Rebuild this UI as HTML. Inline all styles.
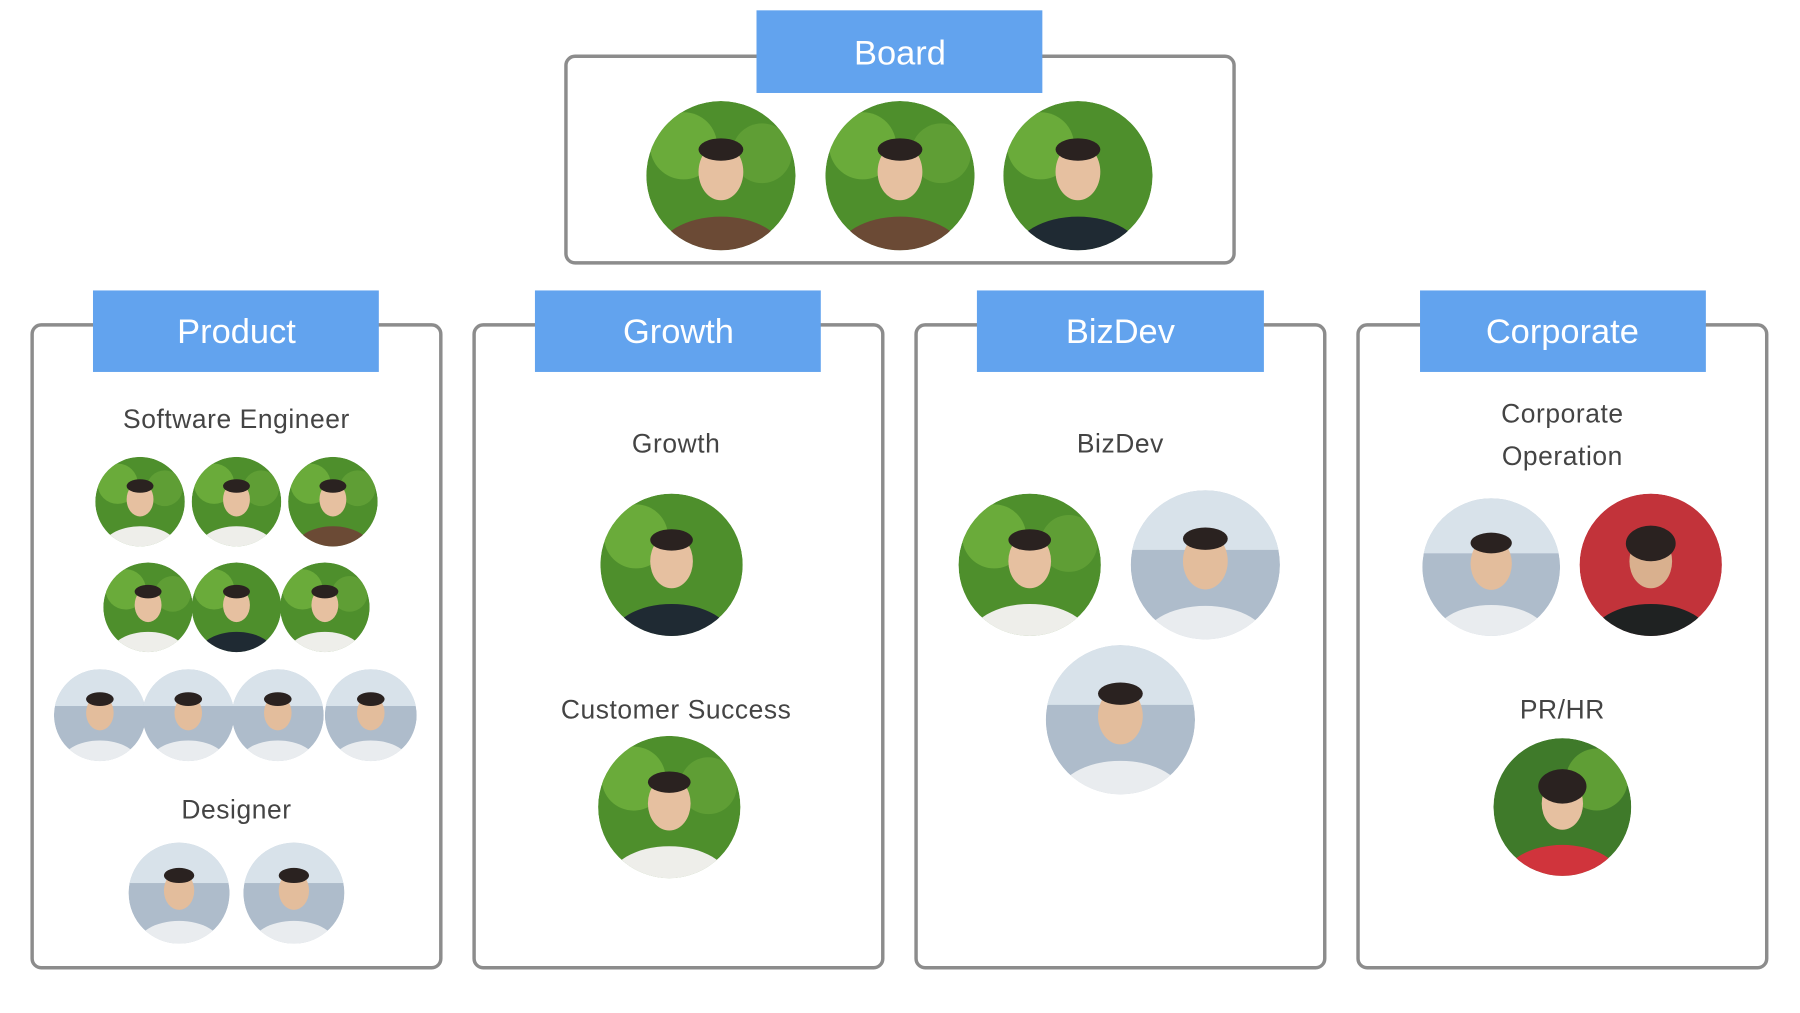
<!DOCTYPE html>
<html><head><meta charset="utf-8"><style>
html,body{margin:0;padding:0;background:#fff;}
svg{display:block;}
text{font-family:"Liberation Sans","DejaVu Sans",sans-serif;}
</style></head><body>
<svg width="1800" height="1013" viewBox="0 0 1568 882.4" preserveAspectRatio="none" xmlns="http://www.w3.org/2000/svg">
<defs>
<clipPath id="u"><circle cx="0" cy="0" r="1"/></clipPath>
<g id="g">
<circle cx="0" cy="0" r="1" fill="#4e8f2c"/>
<circle cx="-0.5" cy="-0.4" r="0.45" fill="#6aab3a"/>
<circle cx="0.55" cy="-0.3" r="0.4" fill="#5f9e35"/>
<ellipse cx="0" cy="1.05" rx="0.85" ry="0.5" fill="#6b4a35"/>
<ellipse cx="0" cy="-0.05" rx="0.3" ry="0.38" fill="#e6c0a0"/>
<ellipse cx="0" cy="-0.35" rx="0.3" ry="0.15" fill="#2a2220"/>
</g>
<g id="w">
<circle cx="0" cy="0" r="1" fill="#4e8f2c"/>
<circle cx="-0.5" cy="-0.4" r="0.45" fill="#6aab3a"/>
<circle cx="0.55" cy="-0.3" r="0.4" fill="#5f9e35"/>
<ellipse cx="0" cy="1.05" rx="0.85" ry="0.5" fill="#eeeeea"/>
<ellipse cx="0" cy="-0.05" rx="0.3" ry="0.38" fill="#e6c0a0"/>
<ellipse cx="0" cy="-0.35" rx="0.3" ry="0.15" fill="#2a2220"/>
</g>
<g id="b">
<circle cx="0" cy="0" r="1" fill="#aebccb"/>
<rect x="-1" y="-1" width="2" height="0.8" fill="#d8e2ea"/>
<ellipse cx="0" cy="1.05" rx="0.85" ry="0.5" fill="#e9ecef"/>
<ellipse cx="0" cy="-0.05" rx="0.3" ry="0.38" fill="#e3bd9c"/>
<ellipse cx="0" cy="-0.35" rx="0.3" ry="0.15" fill="#2a2220"/>
</g>
<g id="d">
<circle cx="0" cy="0" r="1" fill="#4e8f2c"/>
<circle cx="-0.5" cy="-0.4" r="0.45" fill="#6aab3a"/>
<ellipse cx="0" cy="1.05" rx="0.85" ry="0.5" fill="#1f2a33"/>
<ellipse cx="0" cy="-0.05" rx="0.3" ry="0.38" fill="#e6c0a0"/>
<ellipse cx="0" cy="-0.35" rx="0.3" ry="0.15" fill="#2a2220"/>
</g>
<g id="r">
<circle cx="0" cy="0" r="1" fill="#c2333a"/>
<ellipse cx="0" cy="1.05" rx="0.85" ry="0.5" fill="#1f2222"/>
<ellipse cx="0" cy="-0.05" rx="0.3" ry="0.38" fill="#d9b08e"/>
<ellipse cx="0" cy="-0.3" rx="0.35" ry="0.25" fill="#2a2220"/>
</g>
<g id="p">
<circle cx="0" cy="0" r="1" fill="#3f7a2a"/>
<circle cx="0.5" cy="-0.4" r="0.45" fill="#5f9e35"/>
<ellipse cx="0" cy="1.05" rx="0.85" ry="0.5" fill="#d0343c"/>
<ellipse cx="0" cy="-0.05" rx="0.3" ry="0.38" fill="#e6c0a0"/>
<ellipse cx="0" cy="-0.3" rx="0.35" ry="0.25" fill="#2a2220"/>
</g>
</defs>
<g fill="none" stroke="#8c8c8c" stroke-width="3">
<rect x="493" y="49" width="582" height="180" rx="8"/>
<rect x="28" y="283" width="356" height="560" rx="8"/>
<rect x="413" y="283" width="356" height="560" rx="8"/>
<rect x="798" y="283" width="356" height="560" rx="8"/>
<rect x="1183" y="283" width="356" height="560" rx="8"/>
</g>
<g fill="#62a3ee">
<rect x="659" y="9" width="249" height="72"/>
<rect x="81" y="253" width="249" height="71"/>
<rect x="466" y="253" width="249" height="71"/>
<rect x="851" y="253" width="250" height="71"/>
<rect x="1237" y="253" width="249" height="71"/>
</g>
<g fill="#fff" font-size="30" text-anchor="middle">
<text x="784" y="56">Board</text>
<text x="206" y="299">Product</text>
<text x="591" y="299">Growth</text>
<text x="976" y="299">BizDev</text>
<text x="1361" y="299">Corporate</text>
</g>
<g fill="#444" font-size="23" text-anchor="middle" letter-spacing="0.5">
<text x="206" y="373">Software Engineer</text>
<text x="206" y="713">Designer</text>
<text x="589" y="394">Growth</text>
<text x="589" y="626">Customer Success</text>
<text x="976" y="394">BizDev</text>
<text x="1361" y="368">Corporate</text>
<text x="1361" y="405">Operation</text>
<text x="1361" y="626">PR/HR</text>
</g>
<g transform="translate(628,153) scale(65)"><use href="#g" clip-path="url(#u)"/></g>
<g transform="translate(784,153) scale(65)"><use href="#g" clip-path="url(#u)"/></g>
<g transform="translate(939,153) scale(65)"><use href="#d" clip-path="url(#u)"/></g>
<g transform="translate(122,437) scale(39)"><use href="#w" clip-path="url(#u)"/></g>
<g transform="translate(206,437) scale(39)"><use href="#w" clip-path="url(#u)"/></g>
<g transform="translate(290,437) scale(39)"><use href="#g" clip-path="url(#u)"/></g>
<g transform="translate(129,529) scale(39)"><use href="#w" clip-path="url(#u)"/></g>
<g transform="translate(206,529) scale(39)"><use href="#d" clip-path="url(#u)"/></g>
<g transform="translate(283,529) scale(39)"><use href="#w" clip-path="url(#u)"/></g>
<g transform="translate(87,623) scale(40)"><use href="#b" clip-path="url(#u)"/></g>
<g transform="translate(164,623) scale(40)"><use href="#b" clip-path="url(#u)"/></g>
<g transform="translate(242,623) scale(40)"><use href="#b" clip-path="url(#u)"/></g>
<g transform="translate(323,623) scale(40)"><use href="#b" clip-path="url(#u)"/></g>
<g transform="translate(156,778) scale(44)"><use href="#b" clip-path="url(#u)"/></g>
<g transform="translate(256,778) scale(44)"><use href="#b" clip-path="url(#u)"/></g>
<g transform="translate(585,492) scale(62)"><use href="#d" clip-path="url(#u)"/></g>
<g transform="translate(583,703) scale(62)"><use href="#w" clip-path="url(#u)"/></g>
<g transform="translate(897,492) scale(62)"><use href="#w" clip-path="url(#u)"/></g>
<g transform="translate(1050,492) scale(65)"><use href="#b" clip-path="url(#u)"/></g>
<g transform="translate(976,627) scale(65)"><use href="#b" clip-path="url(#u)"/></g>
<g transform="translate(1299,494) scale(60)"><use href="#b" clip-path="url(#u)"/></g>
<g transform="translate(1438,492) scale(62)"><use href="#r" clip-path="url(#u)"/></g>
<g transform="translate(1361,703) scale(60)"><use href="#p" clip-path="url(#u)"/></g>
</svg>
</body></html>
